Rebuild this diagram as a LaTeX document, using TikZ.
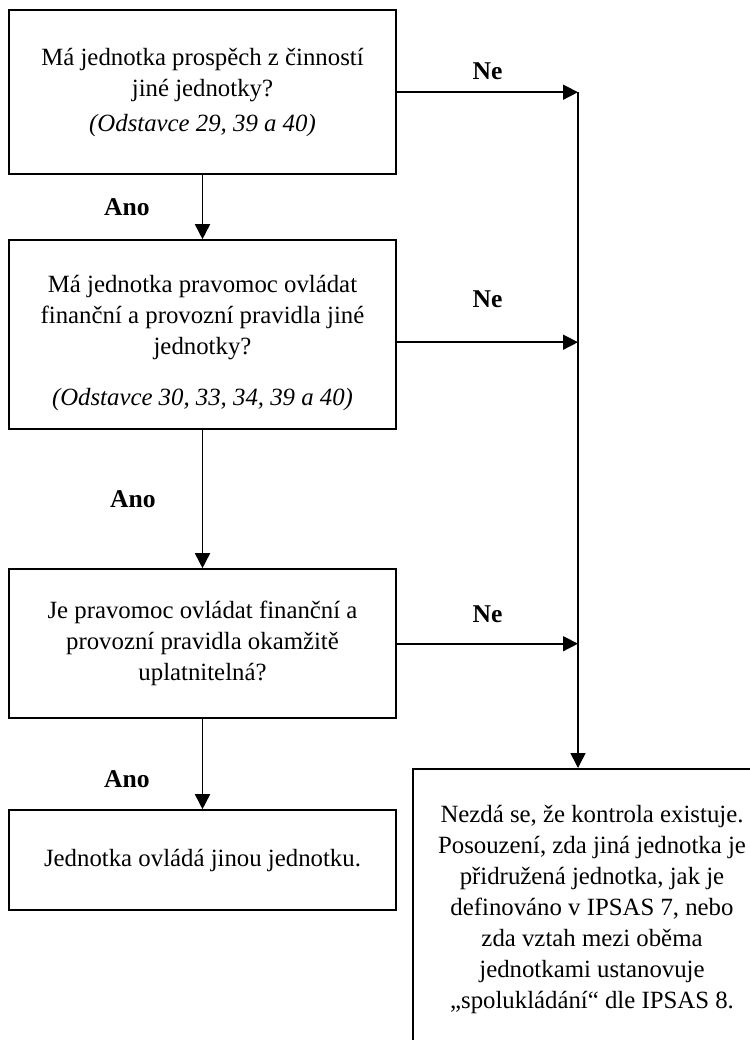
\documentclass[tikz,border=0pt]{standalone}
\usepackage{fontspec}
\setmainfont{Liberation Serif}
\usetikzlibrary{arrows.meta,positioning}

\begin{document}
\begin{tikzpicture}[
    box/.style={draw, line width=1pt, minimum width=193.5pt, inner sep=0pt,
        align=center, font=\fontsize{12.4}{15.5}\selectfont},
    lbl/.style={font=\fontsize{12.8}{15}\selectfont\bfseries, inner sep=0pt},
    arr/.style={line width=0.8pt, -{Triangle[length=7.5pt, width=7.5pt]}}]
    \path[use as bounding box, clip] (0,0) rectangle (375pt,-520pt);
    % left column of questions
    \node[box, minimum height=82pt, anchor=north west] (q1) at (4pt,-4.6pt)
        {Má jednotka prospěch z činností\\ jiné jednotky?\\[2pt]
         \textit{(Odstavce 29, 39 a 40)}};
    \node[box, minimum height=94.5pt, below=32pt of q1] (q2)
        {\rule{0pt}{17pt}Má jednotka pravomoc ovládat\\ finanční a provozní pravidla jiné\\ jednotky?\\[10pt]
         \textit{(Odstavce 30, 33, 34, 39 a 40)}};
    \node[box, minimum height=74.5pt, below=69pt of q2] (q3)
        {Je pravomoc ovládat finanční a\\ provozní pravidla okamžitě\\ uplatnitelná?};
    \node[box, minimum height=50pt, below=45pt of q3] (yes)
        {Jednotka ovládá jinou jednotku.};
    % outcome on the right, runs off the page
    \node[box, minimum width=179pt, minimum height=140pt, anchor=north west] (no) at (206pt,-384pt)
        {Nezdá se, že kontrola existuje.\\ Posouzení, zda jiná jednotka je\\
         přidružená jednotka, jak je\\ definováno v IPSAS 7, nebo\\
         zda vztah mezi oběma\\ jednotkami ustanovuje\\ „spolukládání“ dle IPSAS 8.};
    \coordinate (bus) at (289pt,-384pt);
    \coordinate (bustop) at (q1.east -| bus);

    % Ano
    \draw[arr] (q1.south) -- node[lbl, left=26pt] {Ano} (q2.north);
    \draw[arr] (q2.south) -- node[lbl, left=23pt] {Ano} (q3.north);
    \draw[arr] (q3.south) -- node[lbl, left=26pt, pos=0.67] {Ano} (yes.north);
    % Ne
    \draw[arr] (q1.east) -- node[lbl, above=6pt] {Ne} (bustop);
    \draw[arr] ([yshift=-3.75pt]q2.east) -- node[lbl, above=17pt] {Ne} ([yshift=-3.75pt]q2.east -| bus);
    \draw[arr] (q3.east) -- node[lbl, above=10pt] {Ne} (q3.east -| bus);
    \draw[arr] (bustop) -- (bus);
\end{tikzpicture}
\end{document}
